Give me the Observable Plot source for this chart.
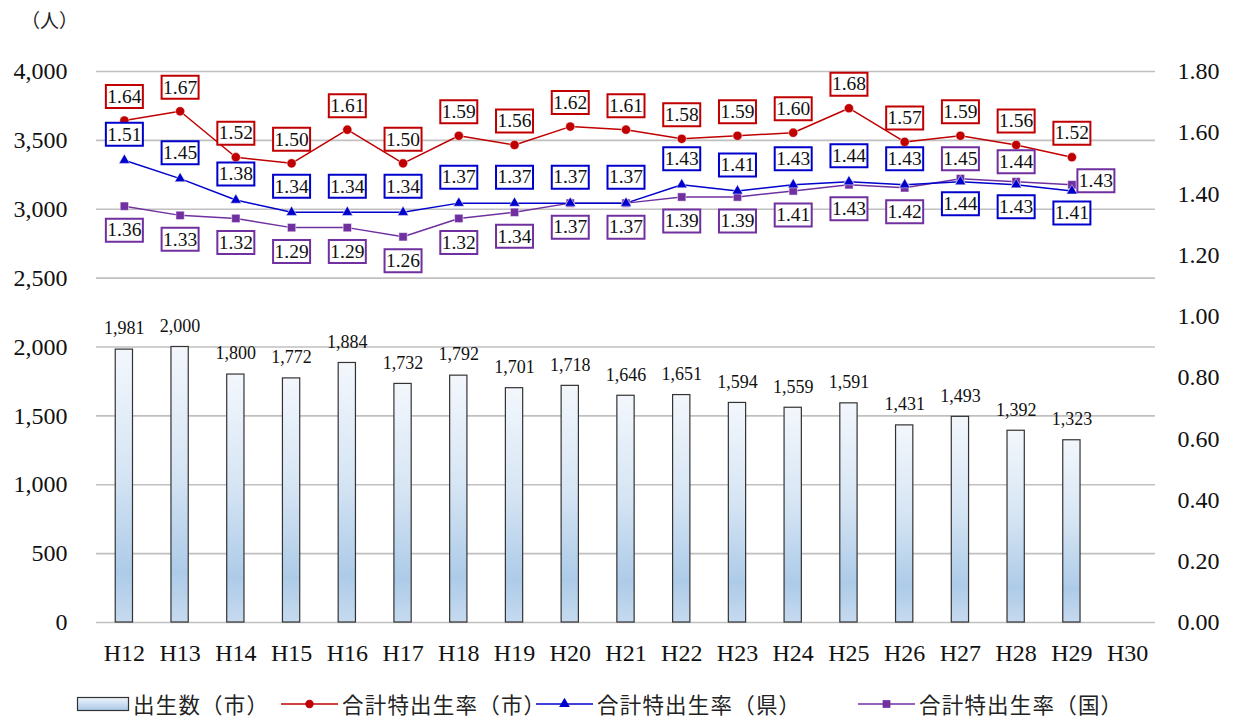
<!DOCTYPE html>
<html><head><meta charset="utf-8">
<script src="https://cdn.jsdelivr.net/npm/d3@7"></script>
<script src="https://cdn.jsdelivr.net/npm/@observablehq/plot@0.6"></script>
<style>
body{margin:0;background:#fff;}
#wrap{position:relative;width:1234px;height:718px;overflow:hidden;}
#chart svg text{font-family:"Liberation Serif","DejaVu Serif",serif !important;}
#unit{position:absolute;left:21px;top:6px;font-family:"Noto Sans CJK JP",sans-serif;font-size:19px;line-height:28px;color:#222;}
#legend{position:absolute;top:692px;left:0;width:1234px;height:24px;}
.li{position:absolute;top:0;height:24px;display:flex;align-items:center;font-family:"Noto Sans CJK JP",sans-serif;font-size:21.5px;letter-spacing:1.2px;color:#222;white-space:nowrap;}
.li span{line-height:22px;display:block;}
.li svg{display:block;flex:none;}
</style></head><body>
<div id="wrap"><div id="chart"></div><div id="unit"></div><div id="legend"></div></div>
<script>
const categories = ["H12","H13","H14","H15","H16","H17","H18","H19","H20","H21","H22","H23","H24","H25","H26","H27","H28","H29","H30"];
const births = [1981,2000,1800,1772,1884,1732,1792,1701,1718,1646,1651,1594,1559,1591,1431,1493,1392,1323];
const rateCity = [1.64,1.67,1.52,1.50,1.61,1.50,1.59,1.56,1.62,1.61,1.58,1.59,1.60,1.68,1.57,1.59,1.56,1.52];
const ratePref = [1.51,1.45,1.38,1.34,1.34,1.34,1.37,1.37,1.37,1.37,1.43,1.41,1.43,1.44,1.43,1.44,1.43,1.41];
const rateNation = [1.36,1.33,1.32,1.29,1.29,1.26,1.32,1.34,1.37,1.37,1.39,1.39,1.41,1.43,1.42,1.45,1.44,1.43];
const leftTicks = [0,500,1000,1500,2000,2500,3000,3500,4000];
const rightTicks = [0,0.2,0.4,0.6,0.8,1.0,1.2,1.4,1.6,1.8];
const seriesNames = ["出生数（市）","合計特出生率（市）","合計特出生率（県）","合計特出生率（国）"];
const unitLabel = "（人）";

const RED = "#c00000", BLUE = "#0000cc", PURPLE = "#7030a0";
const k = 4000 / 1.8; // right axis (rate) -> left axis units

const rows = births.map((b, i) => ({cat: categories[i], births: b, city: rateCity[i], pref: ratePref[i], nation: rateNation[i], i}));

const fmtInt = d3.format(",");
const boxSymbol = {draw(ctx){ ctx.moveTo(-18.5,-11.5); ctx.lineTo(18.5,-11.5); ctx.lineTo(18.5,11.5); ctx.lineTo(-18.5,11.5); ctx.closePath(); }};

function labelMarks(data, key, color, dxf, dyf) {
  const opts = {x: "cat", y: d => d[key] * k, dx: dxf, dy: dyf};
  return [
    Plot.dot(data, {...opts, symbol: boxSymbol, r: 1, fill: "white", stroke: color, strokeWidth: 2}),
    Plot.text(data, {...opts, text: d => d[key].toFixed(2), fontSize: 19.5, fill: "#111"})
  ];
}

const prefAbove = rows.filter(d => d.i < 15), prefBelow = rows.filter(d => d.i >= 15);
const natBelow = rows.filter(d => d.i < 15), natAbove = rows.filter(d => d.i >= 15 && d.i < 17), natRight = rows.filter(d => d.i >= 17);

const svg = Plot.plot({
  width: 1234, height: 690,
  marginTop: 71, marginBottom: 68, marginLeft: 96, marginRight: 79,
  style: {fontSize: "24px", fontFamily: "Liberation Serif", color: "#111", background: "white"},
  x: {type: "band", domain: categories, paddingInner: 0.69, paddingOuter: 0.345, round: false, label: null},
  y: {domain: [0, 4000], label: null},
  marks: [
    Plot.gridY(leftTicks, {stroke: "#c0c0c0", strokeOpacity: 1, strokeWidth: 1.6}),
    Plot.axisY({ticks: leftTicks, anchor: "left", tickSize: 0, tickPadding: 29, tickFormat: fmtInt, fontSize: 24, label: null}),
    Plot.axisY({ticks: rightTicks.map(v => v * k), anchor: "right", tickSize: 0, tickPadding: 22, tickFormat: d => (d / k).toFixed(2), fontSize: 24, label: null}),
    Plot.axisX({tickSize: 0, tickPadding: 21, fontSize: 24, label: null}),
    Plot.barY(rows, {x: "cat", y: "births", fill: "url(#barGrad)", stroke: "#333", strokeWidth: 1.2}),
    Plot.text(rows, {x: "cat", y: "births", text: d => fmtInt(d.births), dy: -21, fontSize: 18, fill: "#111"}),
    Plot.line(rows, {x: "cat", y: d => d.nation * k, stroke: PURPLE, strokeWidth: 1.5}),
    Plot.line(rows, {x: "cat", y: d => d.pref * k, stroke: BLUE, strokeWidth: 1.5}),
    Plot.line(rows, {x: "cat", y: d => d.city * k, stroke: RED, strokeWidth: 1.5}),
    Plot.dot(rows, {x: "cat", y: d => d.nation * k, symbol: "square", r: 4.7, fill: PURPLE, stroke: "white", strokeWidth: 0.5}),
    Plot.dot(rows, {x: "cat", y: d => d.pref * k, symbol: "triangle", r: 4, fill: BLUE, stroke: "white", strokeWidth: 0.5}),
    Plot.dot(rows, {x: "cat", y: d => d.city * k, symbol: "circle", r: 4.6, fill: RED, stroke: "white", strokeWidth: 0.5}),
    ...labelMarks(rows, "city", RED, 0, -24),
    ...labelMarks(prefAbove, "pref", BLUE, 0, -26),
    ...labelMarks(prefBelow, "pref", BLUE, 0, 22),
    ...labelMarks(natBelow, "nation", PURPLE, 0, 24),
    ...labelMarks(natAbove, "nation", PURPLE, 0, -20),
    ...labelMarks(natRight, "nation", PURPLE, 24, -4)
  ]
});

d3.select(svg).insert("defs", ":first-child").html(
  `<linearGradient id="barGrad" x1="0" y1="0" x2="0" y2="1">
     <stop offset="0" stop-color="#f3f7fc"/>
     <stop offset="0.45" stop-color="#d6e5f4"/>
     <stop offset="0.82" stop-color="#adcbe8"/>
     <stop offset="1" stop-color="#c6daef"/>
   </linearGradient>`);
document.getElementById("chart").appendChild(svg);
document.getElementById("unit").textContent = unitLabel;

// legend
const legend = document.getElementById("legend");
const items = [
  {left: 76, type: "bar"},
  {left: 280, type: "circle", color: RED},
  {left: 535, type: "triangle", color: BLUE},
  {left: 857, type: "square", color: PURPLE}
];
items.forEach((it, j) => {
  const div = document.createElement("div");
  div.className = "li";
  div.style.left = it.left + "px";
  let sw;
  if (it.type === "bar") {
    sw = `<svg width="57" height="24"><defs><linearGradient id="lg0" x1="0" y1="0" x2="0" y2="1"><stop offset="0" stop-color="#eef4fb"/><stop offset="1" stop-color="#a9c8e6"/></linearGradient></defs><rect x="1.5" y="5.5" width="51" height="13" fill="url(#lg0)" stroke="#333" stroke-width="1.2"/></svg>`;
  } else {
    const sym = d3.symbol(it.type === "circle" ? d3.symbolCircle : it.type === "triangle" ? d3.symbolTriangle : d3.symbolSquare, it.type === "circle" ? 55 : it.type === "triangle" ? 50 : 60)();
    sw = `<svg width="62" height="24"><line x1="1" x2="58" y1="12" y2="12" stroke="${it.color}" stroke-width="1.5"/><path d="${sym}" transform="translate(29.5,12)" fill="${it.color}"/></svg>`;
  }
  div.innerHTML = sw + `<span>${seriesNames[j]}</span>`;
  legend.appendChild(div);
});
</script>
</body></html>
